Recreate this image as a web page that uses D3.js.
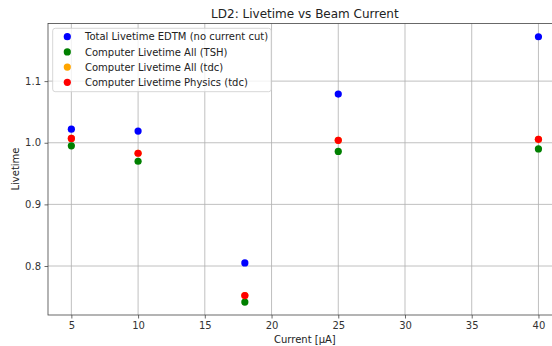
<!DOCTYPE html>
<html><head><meta charset="utf-8">
<script src="https://cdn.jsdelivr.net/npm/d3@7"></script>
<style>body{margin:0;background:#fff}svg{display:block;font-family:"DejaVu Sans",sans-serif}</style>
</head><body><svg id="c" width="552" height="346"></svg>
<script>
const currents = [5, 10, 18, 25, 40];
const edtm = [1.022, 1.019, 0.805, 1.079, 1.172];
const tsh = [0.995, 0.970, 0.7415, 0.986, 0.990];
const tdcAll = [1.007, 0.983, 0.752, 1.004, 1.0055];
const tdcPhys = [1.007, 0.983, 0.752, 1.004, 1.0055];
const seriesNames = ["Total Livetime EDTM (no current cut)", "Computer Livetime All (TSH)", "Computer Livetime All (tdc)", "Computer Livetime Physics (tdc)"];
const seriesColors = ["#0000ff", "#008000", "#ffa500", "#ff0000"];
const xTicks = [5, 10, 15, 20, 25, 30, 35, 40];
const yTicks = [0.8, 0.9, 1.0, 1.1];

const series = [edtm, tsh, tdcAll, tdcPhys];
const svg = d3.select("#c");
const L = 48, R = 561.8, T = 23.5, B = 315;
const x = d3.scaleLinear().domain([3.25, 41.75]).range([L, R]);
const y = d3.scaleLinear().domain([0.7205, 1.1935]).range([B, T]);

// grid
svg.append("g").selectAll("line").data(xTicks).join("line")
  .attr("x1", d => x(d)).attr("x2", d => x(d)).attr("y1", T).attr("y2", B)
  .attr("stroke", "#b0b0b0").attr("stroke-width", 0.8);
svg.append("g").selectAll("line").data(yTicks).join("line")
  .attr("y1", d => y(d)).attr("y2", d => y(d)).attr("x1", L).attr("x2", R)
  .attr("stroke", "#b0b0b0").attr("stroke-width", 0.8);

// axes
const xa = svg.append("g").attr("transform", `translate(0,${B})`)
  .call(d3.axisBottom(x).tickValues(xTicks).tickFormat(d3.format("d")).tickSize(3.5).tickPadding(3.5));
const ya = svg.append("g").attr("transform", `translate(${L},0)`)
  .call(d3.axisLeft(y).tickValues(yTicks).tickFormat(d3.format(".1f")).tickSize(3.5).tickPadding(3.5));
[xa, ya].forEach(a => {
  a.selectAll("text").attr("font-size", 10).attr("fill", "#333").attr("font-family", "DejaVu Sans");
  a.selectAll(".tick line").attr("stroke", "#444").attr("stroke-width", 0.8);
  a.select(".domain").remove();
});
// spines
svg.append("rect").attr("x", L).attr("y", T).attr("width", R - L).attr("height", B - T)
  .attr("fill", "none").attr("stroke", "#444").attr("stroke-width", 0.8);

// points
series.forEach((s, i) => {
  svg.append("g").selectAll("circle").data(s).join("circle")
    .attr("cx", (d, j) => x(currents[j])).attr("cy", d => y(d)).attr("r", 3.6)
    .attr("fill", seriesColors[i]);
});

// title & labels
svg.append("text").attr("x", (L + R) / 2).attr("y", 18).attr("text-anchor", "middle")
  .attr("font-size", 12).attr("fill", "#222").text("LD2: Livetime vs Beam Current");
svg.append("text").attr("x", (L + R) / 2).attr("y", 343).attr("text-anchor", "middle")
  .attr("font-size", 10).attr("fill", "#222").text("Current [μA]");
svg.append("text").attr("transform", "translate(18.5,169) rotate(-90)").attr("text-anchor", "middle")
  .attr("font-size", 10).attr("fill", "#222").text("Livetime");

// legend
const lg = svg.append("g");
lg.append("rect").attr("x", 52.7).attr("y", 28.3).attr("width", 218.5).attr("height", 63.4).attr("rx", 2.5)
  .attr("fill", "#fff").attr("fill-opacity", 0.8).attr("stroke", "#cccccc").attr("stroke-width", 0.8);
seriesNames.forEach((n, i) => {
  const yy = 36.7 + i * 15.2;
  lg.append("circle").attr("cx", 67.3).attr("cy", yy).attr("r", 3.6).attr("fill", seriesColors[i]);
  lg.append("text").attr("x", 85).attr("y", yy + 3.6).attr("font-size", 10).attr("fill", "#222").text(n);
});
</script></body></html>
